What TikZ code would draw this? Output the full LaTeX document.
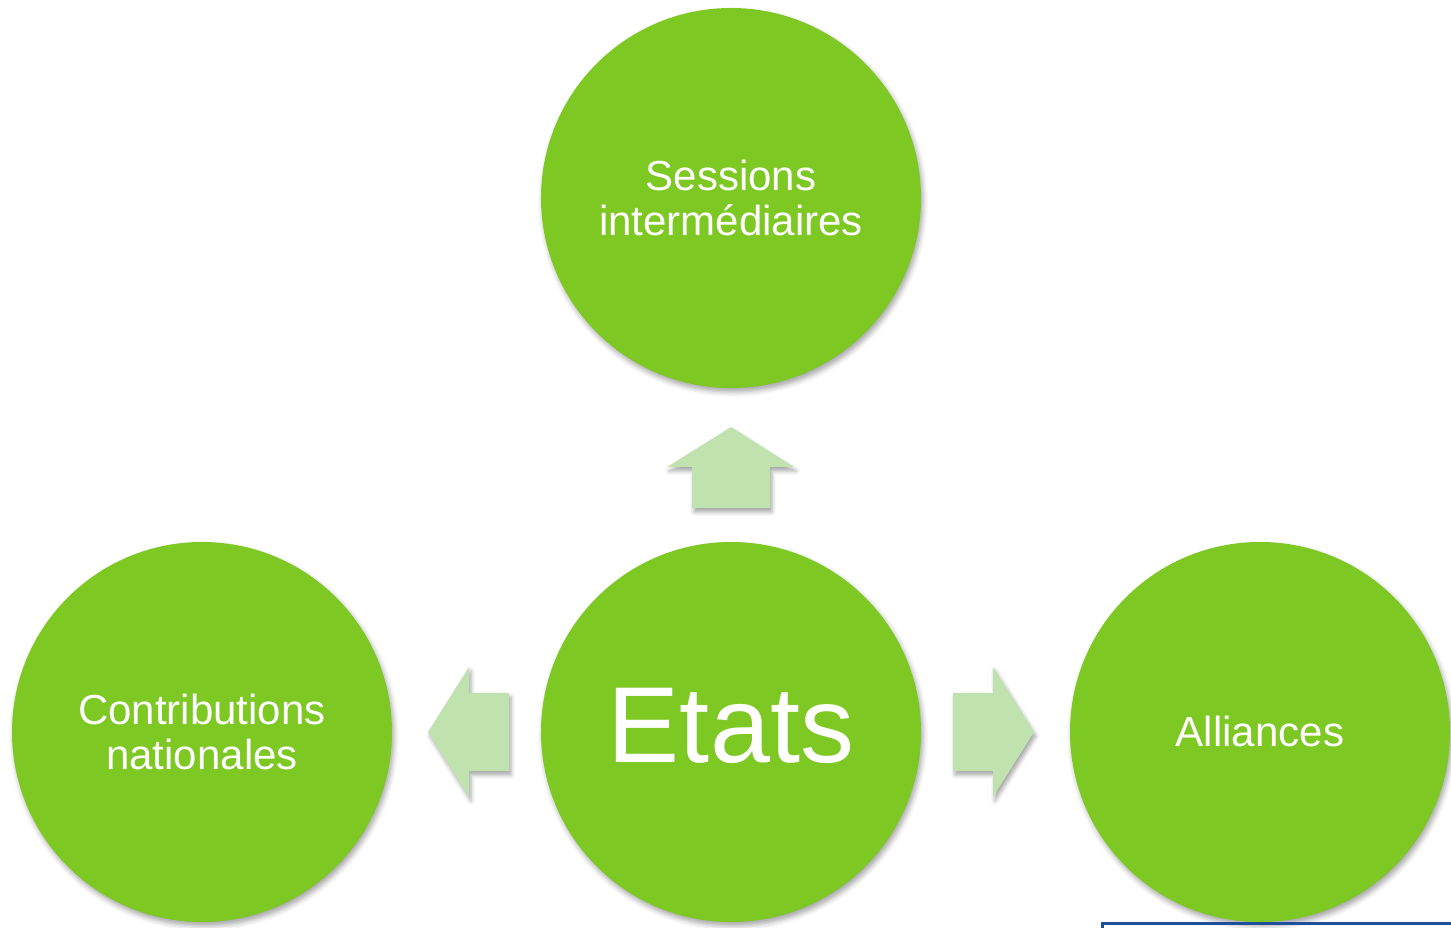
\documentclass[tikz,border=0pt]{standalone}
\usepackage{fontspec}
\setmainfont{Liberation Sans}
\usetikzlibrary{shadows.blur}
\definecolor{bubblegreen}{RGB}{125,200,35}
\definecolor{arrowgreen}{RGB}{192,226,174}
\definecolor{frameblue}{RGB}{31,78,154}

\begin{document}
\begin{tikzpicture}[x=1pt,y=1pt,
  bubble/.style={circle,fill=bubblegreen,minimum size=380pt,inner sep=0pt,
    text=white,align=center,font=\fontsize{42}{45}\selectfont,
    blur shadow={shadow xshift=2pt,shadow yshift=-4pt,shadow blur radius=5pt,shadow opacity=35}},
  blockarrow/.style={fill=arrowgreen,draw=none,
    blur shadow={shadow xshift=2pt,shadow yshift=-4pt,shadow blur radius=4pt,shadow opacity=35}}]
\useasboundingbox (0,0) rectangle (1451,927);

% the four circles
\node[bubble] (sessions) at (731,729) {Sessions\\interm\'ediaires};
\node[bubble,font=\fontsize{108}{108}\selectfont,text depth=14pt] (etats) at (731,195) {Etats};
\node[bubble] (contrib) at (202,195) {Contributions\\nationales};
\node[bubble,text depth=2pt] (alliances) at (1260,195) {Alliances};

% block arrows
\draw[blockarrow] (731,500) -- (794,460) -- (770,460) -- (770,419) -- (692,419) -- (692,460) -- (667,460) -- cycle;
\draw[blockarrow] (428,195) -- (469,260) -- (469,234) -- (509,234) -- (509,156) -- (469,156) -- (469,130) -- cycle;
\draw[blockarrow] (1034,195) -- (993,260) -- (993,234) -- (953,234) -- (953,156) -- (993,156) -- (993,130) -- cycle;

% frame at the bottom right
\draw[frameblue,line width=3pt] (1102.5,-3) |- (1455,3.5);

\end{tikzpicture}
\end{document}
